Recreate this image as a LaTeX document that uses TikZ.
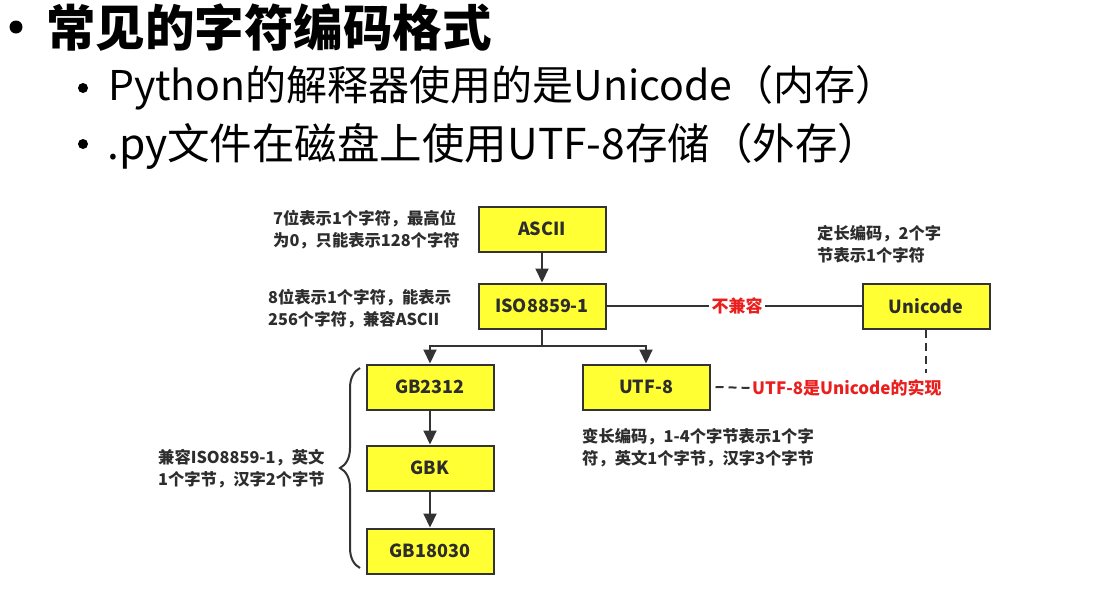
\documentclass[tikz,border=0pt]{standalone}
\usepackage{fontspec}
\setmainfont{Noto Sans CJK SC}
\usetikzlibrary{arrows.meta,decorations.pathreplacing}
\definecolor{boxyellow}{RGB}{255,255,51}
\definecolor{edge}{RGB}{51,51,51}
\definecolor{note}{RGB}{45,45,45}
\definecolor{warn}{RGB}{235,30,30}
\tikzset{
  enc/.style={draw=edge,line width=2pt,fill=boxyellow,minimum width=127pt,minimum height=45pt,inner sep=0pt,font=\fontsize{18}{20}\selectfont\bfseries,text=note},
  notetext/.style={anchor=west,align=left,inner sep=0pt,font=\fontsize{16.3}{22}\selectfont\bfseries,text=note},
  redtext/.style={inner sep=0pt,font=\fontsize{17}{20}\selectfont\bfseries,text=warn},
  conn/.style={draw=edge,line width=2pt},
  arr/.style={conn,-{Triangle[width=13pt,length=14pt]}},
  dashconn/.style={conn,dash pattern=on 8pt off 5pt},
  bullet/.style={fill=black,circle,inner sep=0pt},
  heading/.style={anchor=west,inner sep=0pt,font=\fontsize{49.5}{52}\selectfont\bfseries},
  subhead/.style={anchor=west,inner sep=0pt,font=\fontsize{41}{44}\selectfont},
  subheadb/.style={anchor=west,inner sep=0pt,font=\fontsize{42.5}{44}\selectfont},
}
\begin{document}
\begin{tikzpicture}[x=1pt,y=-1pt]
\useasboundingbox[fill=white] (0,0) rectangle (1107,592);
% header
\node[bullet,minimum size=13pt] (b0) at (16,27) {};
\node[heading] (t0) at (46,28) {常见的字符编码格式};
\node[bullet,minimum size=10pt] (b1) at (83,88) {};
\node[subhead] (t1) at (108,88) {Python的解释器使用的是Unicode（内存）};
\node[bullet,minimum size=10pt] (b2) at (83,144) {};
\node[subheadb] (t2) at (107,146) {.py文件在磁盘上使用UTF-8存储（外存）};
% boxes
\node[enc] (ascii) at (542,229) {ASCII};
\node[enc] (iso) at (542,306) {ISO8859-1};
\node[enc] (uni) at (926,306) {Unicode};
\node[enc] (gb) at (430,387) {GB2312};
\node[enc] (utf) at (646,387) {UTF-8};
\node[enc] (gbk) at (430,468) {GBK};
\node[enc] (gb18) at (430,551) {GB18030};
% notes
\node[notetext] (n1) at (273,230) {7位表示1个字符，最高位\\为0，只能表示128个字符};
\node[notetext] (n2) at (268,309) {8位表示1个字符，能表示\\256个字符，兼容ASCII};
\node[notetext] (n3) at (817,244) {定长编码，2个字\\节表示1个字符};
\node[notetext] (n4) at (158,469) {兼容ISO8859-1，英文\\1个字节，汉字2个字节};
\node[notetext] (n5) at (582,448) {变长编码，1-4个字节表示1个字\\符，英文1个字节，汉字3个字节};
% red labels
\node[redtext] (inc) at (737,306) {不兼容};
\node[redtext,anchor=west] (impl) at (752,388) {UTF-8是Unicode的实现};
% connectors
\draw[arr] (ascii) -- (iso);
\coordinate (split) at (542,346);
\draw[conn] (iso.south) -- (split);
\draw[arr] (split) -| (gb.north);
\draw[arr] (split) -| (utf.north);
\draw[arr] (gb) -- (gbk);
\draw[arr] (gbk) -- (gb18);
\draw[conn] (iso.east) -- ([xshift=-2pt]inc.west);
\draw[conn] ([xshift=2pt]inc.east) -- (uni.west);
\coordinate (uniend) at (926,373);
\draw[dashconn] (uni.south) -- (uniend);
\draw[dashconn] ([xshift=5pt]utf.east) -- (impl.west);
% brace
\coordinate (bt) at (360,368);
\coordinate (bb) at (360,568);
\draw[conn,decorate,decoration={brace,amplitude=20pt}] (bb) -- (bt);
\end{tikzpicture}
\end{document}
